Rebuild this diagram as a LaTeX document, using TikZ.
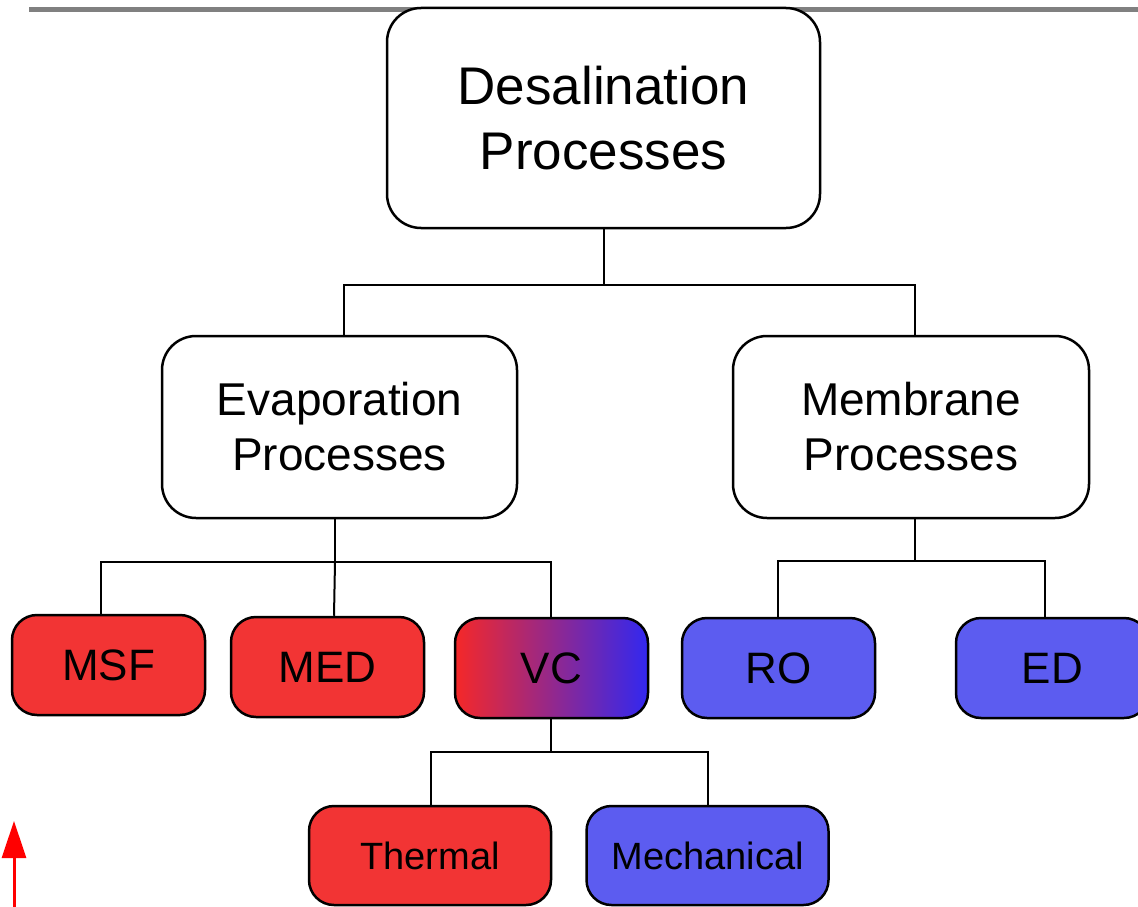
\documentclass[tikz,border=0pt]{standalone}
\usepackage{fontspec}
\setmainfont{Liberation Sans}
\usetikzlibrary{arrows.meta}
\definecolor{redfill}{RGB}{242,52,52}
\definecolor{bluefill}{RGB}{92,92,240}
\definecolor{vcred}{RGB}{245,40,40}
\definecolor{vcblue}{RGB}{50,40,240}
\definecolor{topgray}{RGB}{128,128,128}
\tikzset{
  bigbox/.style={draw=black, line width=2.5pt, rounded corners=34pt, fill=white, inner sep=0pt, align=center},
  smallbox/.style={draw=black, line width=2.5pt, rounded corners=25pt, inner sep=0pt, align=center,
    minimum width=193pt, minimum height=100pt, font=\fontsize{44}{50}\selectfont},
  subbox/.style={smallbox, minimum width=242pt, minimum height=99pt, font=\fontsize{38}{44}\selectfont},
  redbox/.style={fill=redfill},
  bluebox/.style={fill=bluefill},
  link/.style={draw=black, line width=2pt}
}
\begin{document}
\begin{tikzpicture}[x=1pt,y=-1pt]
\useasboundingbox (0,0) rectangle (1138,907);
\clip (0,0) rectangle (1138,907);
\fill[white] (0,0) rectangle (1138,907);
% top gray rule
\coordinate (g1) at (29,10);
\coordinate (g2) at (1138,10);
\draw[topgray, line width=5pt] (g1) -- (g2);
% nodes
\node[bigbox, minimum width=433pt, minimum height=220pt, font=\fontsize{53}{65}\selectfont] (top) at (603.5,118) {Desalination\\Processes};
\node[bigbox, minimum width=355pt, minimum height=182pt, font=\fontsize{46}{55}\selectfont] (evap) at (339.5,427) {Evaporation\\Processes};
\node[bigbox, minimum width=356pt, minimum height=182pt, font=\fontsize{46}{55}\selectfont] (memb) at (911,427) {Membrane\\Processes};
% connectors top level
\coordinate (j1) at (603.5,285);
\draw[link] (top.south) -- (j1);
\draw[link] (evap.north -| 344,0) |- (j1);
\draw[link] (memb.north -| 915,0) |- (j1);
% evaporation children
\node[smallbox, redbox] (msf) at (108.5,665) {MSF};
\node[smallbox, redbox] (med) at (327.5,667) {MED};
\node[smallbox, left color=vcred, right color=vcblue, middle color=vcred!50!vcblue, draw=black] (vc) at (551.5,668) {VC};
\coordinate (j2) at (335,562);
\draw[link] (evap.south -| 335,0) -- (j2);
\draw[link] (msf.north -| 101,0) |- (j2);
\draw[link] (med.north -| 334,0) -- (j2);
\draw[link] (vc.north -| 551,0) |- (j2);
% membrane children
\node[smallbox, bluebox] (ro) at (778.5,668) {RO};
\node[smallbox, bluebox] (ed) at (1052.5,668) {ED};
\coordinate (j3) at (915,561);
\draw[link] (memb.south -| 915,0) -- (j3);
\draw[link] (ro.north -| 778,0) |- (j3);
\draw[link] (ed.north -| 1045,0) |- (j3);
% VC children
\node[subbox, redbox] (thermal) at (430,855.5) {Thermal};
\node[subbox, bluebox] (mech) at (707.5,855.5) {Mechanical};
\coordinate (j4) at (551,752);
\draw[link] (vc.south -| 551,0) -- (j4);
\draw[link] (thermal.north -| 431,0) |- (j4);
\draw[link] (mech.north -| 708,0) |- (j4);
% red arrow
\coordinate (a1) at (14,907);
\coordinate (a2) at (14,821);
\draw[red, line width=3pt, -{Triangle[length=37pt, width=24pt]}] (a1) -- (a2);
\end{tikzpicture}
\end{document}
